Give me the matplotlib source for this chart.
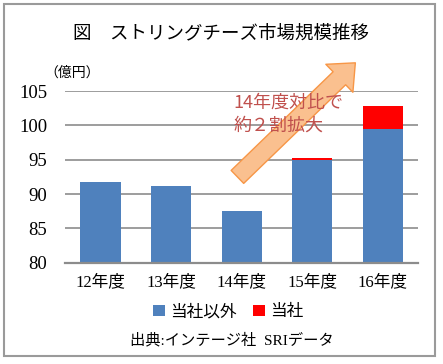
import matplotlib.pyplot as plt
from matplotlib.patches import Rectangle

# data (億円)
years = ['12年度', '13年度', '14年度', '15年度', '16年度']
others = [91.7, 91.2, 87.5, 95.0, 99.4]
ours = [0.0, 0.0, 0.0, 0.25, 3.4]
yticks = [80, 85, 90, 95, 100, 105]

jp = ['Noto Sans CJK JP', 'DejaVu Sans']
mixed = ['Liberation Serif', 'Noto Sans CJK JP']

fig = plt.figure(figsize=(4.43, 3.64), dpi=100)
ax = fig.add_axes([0.147, 0.278, 0.797, 0.472])

x = range(len(years))
ax.bar(x, others, width=0.57, color='#4F81BD', label='当社以外', zorder=2)
ax.bar(x, ours, width=0.57, bottom=others, color='#FF0000', label='当社', zorder=2)

ax.set_ylim(80, 105)
ax.set_xlim(-0.5, len(years) - 0.5)
ax.set_yticks(yticks)
ax.set_yticklabels([str(v) for v in yticks], family=mixed, fontsize=13.5)
ax.set_xticks(list(x))
ax.set_xticklabels(years, family=mixed, fontsize=12)
ax.tick_params(length=0)
ax.tick_params(axis='y', pad=13)
ax.tick_params(axis='x', pad=8)
ax.grid(axis='y', color='#8c8c8c', lw=1.2, zorder=0)
for s in ['left', 'right', 'top']:
    ax.spines[s].set_visible(False)
ax.spines['bottom'].set_color('#8c8c8c')
ax.spines['bottom'].set_linewidth(1.6)

# arrow + callout
ax.annotate('', xy=(3.61, 109.1), xytext=(1.94, 92.5),
            arrowprops=dict(arrowstyle='simple,tail_width=1.3,head_width=2.8,head_length=1.6',
                            fc='#FAC08F', ec='#F79646', lw=1, mutation_scale=10,
                            shrinkA=0, shrinkB=0),
            annotation_clip=False, zorder=3)
fig.text(0.526, 0.742, '14年度対比で\n約２割拡大', family=jp, fontsize=13,
         color='#C0504D', va='top', ha='left', linespacing=1.3, zorder=5)

fig.text(0.499, 0.909, '図　ストリングチーズ市場規模推移', family=jp, fontsize=13.3,
         ha='center', va='center')
fig.text(0.1, 0.8, '（億円）', family=jp, fontsize=10, ha='left', va='center')

leg = ax.legend(loc='center', bbox_to_anchor=(0.515, 0.143),
                bbox_transform=fig.transFigure, ncol=2, frameon=False,
                prop={'family': jp, 'size': 12}, handlelength=0.7,
                handleheight=0.7, handletextpad=0.3, columnspacing=1.0)

fig.text(0.523, 0.066, '出典:インテージ社  SRIデータ', family=mixed, fontsize=11,
         ha='center', va='center')

fig.patches.append(Rectangle((4 / 443, 1 - 356 / 364), 431 / 443, 352 / 364,
                             transform=fig.transFigure, fill=False,
                             ec='#9a9a9a', lw=1.5))

fig.savefig('out.png', dpi=100)
